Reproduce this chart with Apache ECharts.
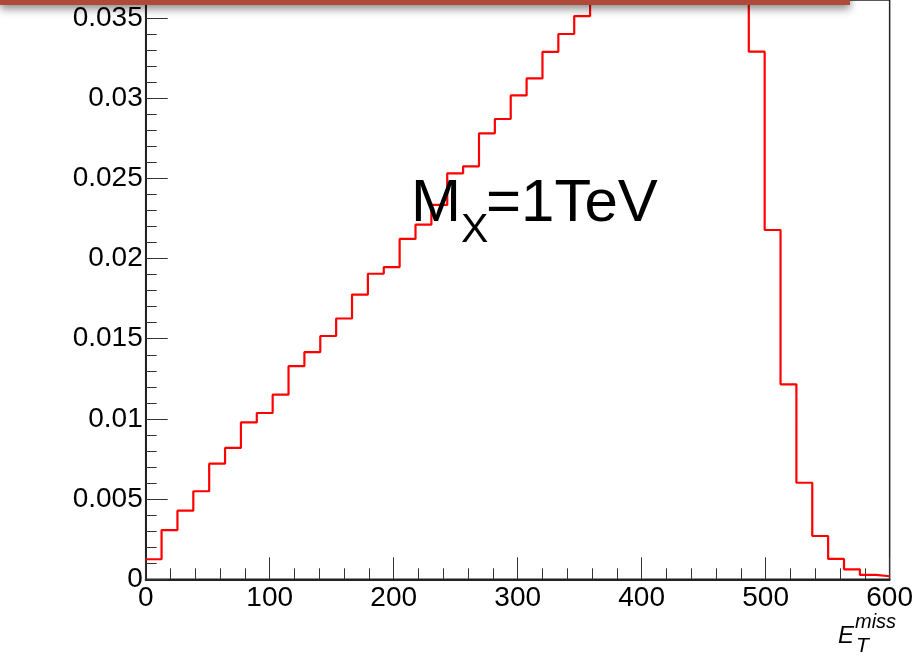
<!DOCTYPE html>
<html>
<head>
<meta charset="utf-8">
<script src="https://cdn.jsdelivr.net/npm/echarts@6/dist/echarts.min.js"></script>
<style>
html,body{margin:0;padding:0;background:#fff;}
#chart{width:916px;height:656px;}
</style>
</head>
<body>
<div id="chart"></div>
<script>
// Histogram binning (bin width 12.8 GeV, shown range 0-600)
const binWidth = 12.8;
const xMin = 0, xMax = 600;
const yMin = 0, yMax = 0.03612;   // visible top of the cropped frame
// Bin contents (bins 28-37 are above the visible area: estimated)
const binValues = [
  0.00125, 0.00307, 0.00428, 0.00549, 0.00721, 0.00819, 0.00978, 0.01037,
  0.01151, 0.01329, 0.01417, 0.01517, 0.01626, 0.01775, 0.01905, 0.01947,
  0.02122, 0.02211, 0.02334, 0.02531, 0.02575, 0.02781, 0.02870, 0.03017,
  0.03123, 0.03289, 0.03400, 0.03512, 0.0362, 0.0372, 0.0381, 0.0391,
  0.0399, 0.0409, 0.0418, 0.0426, 0.0435, 0.0443, 0.03290, 0.02178,
  0.01216, 0.00602, 0.00270, 0.00127, 0.00062, 0.00027, 0.00019
];
const xTicks = [0, 100, 200, 300, 400, 500, 600];
const yTicks = [0, 0.005, 0.01, 0.015, 0.02, 0.025, 0.03, 0.035];
const annotation = { main: 'M', sub: 'X', rest: '=1TeV' };
const axisTitle = { base: 'E', sup: 'miss', sub: 'T' };

// step path points: left edge of each bin, plus closing point at the right end
const stepData = binValues.map((v, i) => [i * binWidth, v]);
stepData.push([xMax, binValues[binValues.length - 1]]);

const FONT = '"Liberation Sans", Arial, Helvetica, sans-serif';
const chart = echarts.init(document.getElementById('chart'), null, {renderer: 'canvas'});

const option = {
  animation: false,
  backgroundColor: '#ffffff',
  grid: {
    left: 145.7, right: 21.5, bottom: 76.7, top: 0,
    show: true, borderColor: '#222', borderWidth: 1.5, backgroundColor: 'transparent'
  },
  xAxis: {
    type: 'value', min: xMin, max: xMax, interval: 100,
    axisLine: {show: true, onZero: false, lineStyle: {color: '#222', width: 2}},
    axisTick: {show: true, inside: true, length: 22, lineStyle: {color: '#333', width: 1}},
    minorTick: {show: true, splitNumber: 5, length: 11, lineStyle: {color: '#333', width: 1}},
    splitLine: {show: false},
    axisLabel: {
      show: true, margin: 5, color: '#000', fontFamily: FONT, fontSize: 28,
      formatter: v => (xTicks.indexOf(v) >= 0 ? String(v) : '')
    }
  },
  yAxis: {
    type: 'value', min: yMin, max: yMax, interval: 0.005,
    axisLine: {show: true, onZero: false, lineStyle: {color: '#222', width: 2}},
    axisTick: {show: true, inside: true, length: 22, lineStyle: {color: '#333', width: 1}},
    minorTick: {show: true, splitNumber: 5, length: 11, lineStyle: {color: '#333', width: 1}},
    splitLine: {show: false},
    axisLabel: {
      show: true, margin: 3, color: '#000', fontFamily: FONT, fontSize: 28,
      showMaxLabel: false,
      formatter: v => {
        const r = +v.toFixed(4);
        return yTicks.some(t => Math.abs(t - r) < 1e-9) ? String(r) : '';
      }
    }
  },
  series: [{
    type: 'line',
    data: stepData,
    step: 'end',
    showSymbol: false,
    symbol: 'none',
    clip: true,
    lineStyle: {color: '#ff0000', width: 2.2},
    z: 3
  }],
  graphic: [
    // annotation M_X=1TeV
    {type: 'text', left: 411, top: 174, z: 10, style: {
      text: annotation.main, font: 'normal 60px ' + FONT, fill: '#000'}},
    {type: 'text', left: 461, top: 210, z: 10, style: {
      text: annotation.sub, font: 'normal 41px ' + FONT, fill: '#000'}},
    {type: 'text', left: 486, top: 174, z: 10, style: {
      text: annotation.rest, font: 'normal 60px ' + FONT, fill: '#000'}},
    // axis title E_T^miss
    {type: 'text', left: 838, top: 624, z: 10, style: {
      text: axisTitle.base, font: 'italic 24px ' + FONT, fill: '#000'}},
    {type: 'text', left: 855, top: 612, z: 10, style: {
      text: axisTitle.sup, font: 'italic 20px ' + FONT, fill: '#000'}},
    {type: 'text', left: 856, top: 636, z: 10, style: {
      text: axisTitle.sub, font: 'italic 21px ' + FONT, fill: '#000'}},
    // decorative red bar with shadow at the top
    {type: 'rect', left: 0, top: -10, z: 20, shape: {width: 850, height: 15},
      style: {fill: '#af4a3b', shadowBlur: 8, shadowColor: 'rgba(0,0,0,0.45)', shadowOffsetY: 4}}
  ]
};
chart.setOption(option);
</script>
</body>
</html>
